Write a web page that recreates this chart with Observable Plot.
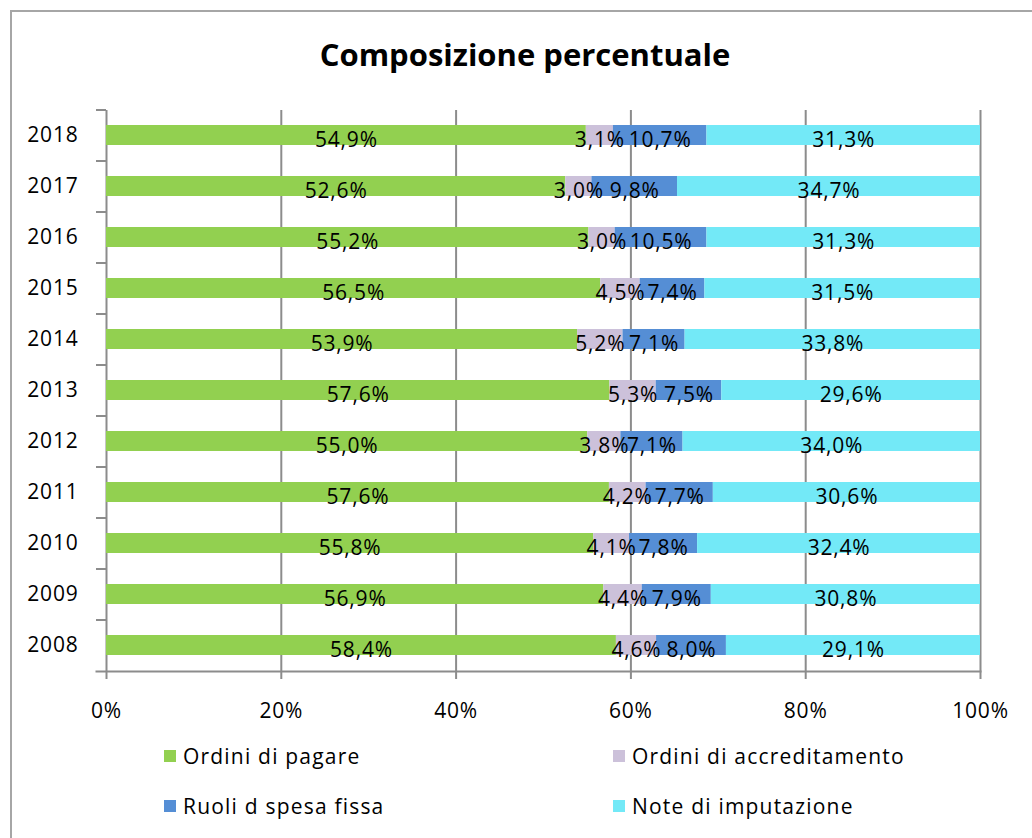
<!DOCTYPE html>
<html>
<head>
<meta charset="utf-8">
<script src="https://cdn.jsdelivr.net/npm/d3@7"></script>
<script src="https://cdn.jsdelivr.net/npm/@observablehq/plot@0.6"></script>
<style>
  html, body { margin: 0; padding: 0; background: #fff; }
  #wrap { position: relative; width: 1032px; height: 838px; overflow: hidden; font-family: "Open Sans", Lato, sans-serif; }
  #border { position: absolute; left: 10px; top: 10px; width: 1100px; height: 1000px; border: 2px solid #a6a6a6; box-sizing: border-box; }
  #title { position: absolute; left: 0; top: 33px; width: 1050px; text-align: center; font-size: 31px; font-weight: bold; color: #000; }
  #chart { position: absolute; left: 0; top: 90px; }
  .leg { position: absolute; font-size: 21px; letter-spacing: 1.2px; color: #000; display: flex; align-items: center; }
  .leg span.sw { display: inline-block; width: 12px; height: 12px; margin-right: 7px; }
</style>
</head>
<body>
<div id="wrap">
  <div id="border"></div>
  <div id="title">Composizione percentuale</div>
  <div id="chart"></div>
  <div id="legend"></div>
</div>
<script>
const years = ["2008","2009","2010","2011","2012","2013","2014","2015","2016","2017","2018"];
const seriesNames = ["Ordini di pagare","Ordini di accreditamento","Ruoli d spesa fissa","Note di imputazione"];
const ordiniPagare         = [58.4, 56.9, 55.8, 57.6, 55.0, 57.6, 53.9, 56.5, 55.2, 52.6, 54.9];
const ordiniAccreditamento = [4.6, 4.4, 4.1, 4.2, 3.8, 5.3, 5.2, 4.5, 3.0, 3.0, 3.1];
const ruoliSpesaFissa      = [8.0, 7.9, 7.8, 7.7, 7.1, 7.5, 7.1, 7.4, 10.5, 9.8, 10.7];
const noteImputazione      = [29.1, 30.8, 32.4, 30.6, 34.0, 29.6, 33.8, 31.5, 31.3, 34.7, 31.3];
const seriesColors = ["#92D050", "#CCC1DA", "#558ED5", "#73E9F7"];
const xTicks = [0, 0.2, 0.4, 0.6, 0.8, 1.0];

const seriesValues = [ordiniPagare, ordiniAccreditamento, ruoliSpesaFissa, noteImputazione];
const data = [];
years.forEach((y, i) => {
  seriesNames.forEach((s, j) => data.push({year: y, series: s, value: seriesValues[j][i]}));
});
const fmt = v => v.toFixed(1).replace(".", ",") + "%";
const gray = "#8c8c8c";

const chart = Plot.plot({
  width: 1032,
  height: 645,
  marginTop: 20,
  marginLeft: 106,
  marginRight: 52,
  marginBottom: 64,
  style: {fontFamily: "'Open Sans', Lato, sans-serif", fontSize: "21px", letterSpacing: "0.8px", color: "#000", background: "transparent"},
  x: {domain: [0, 1]},
  y: {domain: years.slice().reverse(), paddingInner: 0.6, paddingOuter: 0.3, label: null},
  color: {domain: seriesNames, range: seriesColors},
  marks: [
    Plot.ruleX(xTicks, {stroke: gray, strokeWidth: 2}),
    Plot.barX(data, Plot.stackX({x: "value", y: "year", fill: "series", order: seriesNames, offset: "normalize"})),
    Plot.text(data, Plot.stackX({x: "value", y: "year", z: "series", order: seriesNames, offset: "normalize",
      text: d => fmt(d.value), fill: "#000", dy: 5, fontSize: 21})),
    Plot.axisY({tickSize: 0, tickPadding: 28, fontSize: 21, fill: "#000", label: null}),
    Plot.axisY({text: null, tickSize: 10, dy: -25.5, stroke: gray, strokeWidth: 2, label: null}),
    Plot.axisX({ticks: xTicks, tickSize: 8, tickPadding: 24, stroke: gray, strokeWidth: 2, fill: "#000", fontSize: 21,
      tickFormat: d => Math.round(d * 100) + "%", label: null}),
    Plot.frame({anchor: "bottom", insetLeft: -10, stroke: gray, strokeWidth: 2})
  ]
});
document.getElementById("chart").appendChild(chart);

const legendPos = [[164, 742], [613, 742], [164, 792], [613, 792]];
const legend = document.getElementById("legend");
seriesNames.forEach((s, i) => {
  const d = document.createElement("div");
  d.className = "leg";
  d.style.left = legendPos[i][0] + "px";
  d.style.top = legendPos[i][1] + "px";
  d.innerHTML = `<span class="sw" style="background:${seriesColors[i]}"></span>${s}`;
  legend.appendChild(d);
});
</script>
</body>
</html>
